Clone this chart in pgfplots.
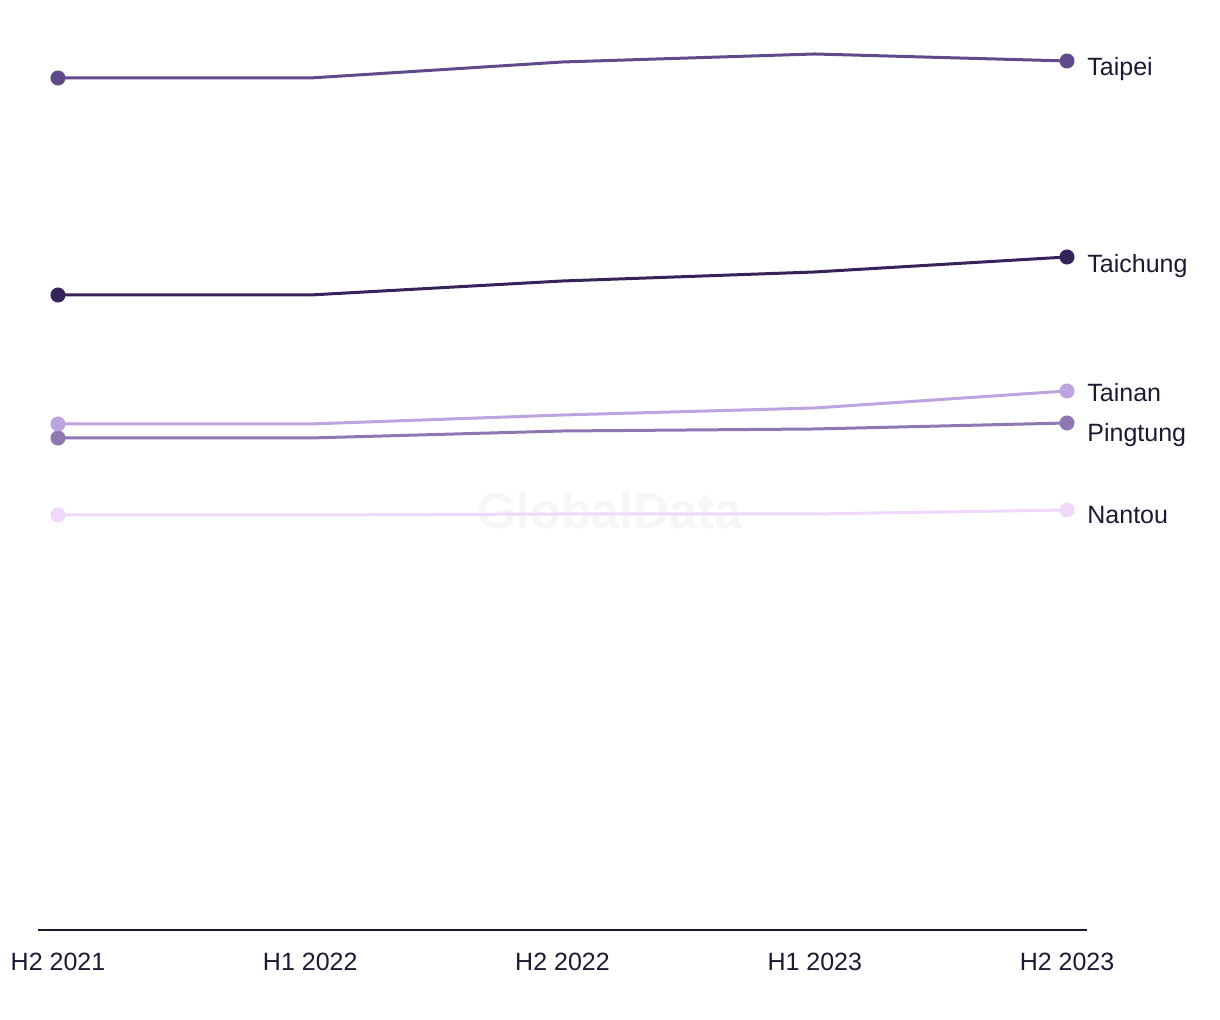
\documentclass[border=0pt]{standalone}
\usepackage{pgfplots}
\pgfplotsset{compat=1.18}
\usepackage{fontspec}
\setmainfont{Liberation Sans}
\definecolor{txt}{HTML}{1A1A33}
\definecolor{cTaipei}{HTML}{5F4B8B}
\definecolor{cTaichung}{HTML}{35235A}
\definecolor{cTainan}{HTML}{BDA3E0}
\definecolor{cPingtung}{HTML}{8E77B3}
\definecolor{cNantou}{HTML}{EFD8FB}
\definecolor{wm}{HTML}{F6F6F6}
\begin{document}
\begin{tikzpicture}
\path (-19pt,-45pt) rectangle (591pt,465pt);
\begin{axis}[
  scale only axis,
  width=524.5pt, height=465pt,
  xmin=-0.0793, xmax=4.0793,
  ymin=0, ymax=930,
  axis x line=bottom, axis y line=none,
  axis line style={-, draw=txt, line width=1pt},
  xtick={0,1,2,3,4},
  xticklabels={H2 2021,H1 2022,H2 2022,H1 2023,H2 2023},
  major tick length=0pt,
  xticklabel style={anchor=base, yshift=-20.5pt, font=\fontsize{12.5}{15}\selectfont, text=txt},
  clip=false,
  every axis plot/.append style={line width=1.5pt, mark=*, mark size=3pt, mark repeat=4},
]
\node[font=\fontsize{25}{30}\selectfont\bfseries, text=wm] at (axis cs:2.188,419) {GlobalData};
\addplot[cNantou, mark options={fill=cNantou, draw=cNantou}] coordinates {(0,415) (1,415) (2,416) (3,416) (4,420)};
\addplot[cPingtung, mark options={fill=cPingtung, draw=cPingtung}] coordinates {(0,492) (1,492) (2,499) (3,501) (4,507)};
\addplot[cTainan, mark options={fill=cTainan, draw=cTainan}] coordinates {(0,506) (1,506) (2,515) (3,522) (4,539)};
\addplot[cTaichung, mark options={fill=cTaichung, draw=cTaichung}] coordinates {(0,635) (1,635) (2,649) (3,658) (4,673)};
\addplot[cTaipei, mark options={fill=cTaipei, draw=cTaipei}] coordinates {(0,852) (1,852) (2,868) (3,876) (4,869)};
\begin{scope}[every node/.style={anchor=base west, inner sep=0pt, xshift=10pt, font=\fontsize{12.5}{15}\selectfont, text=txt}]
\node at (axis cs:4,854) {Taipei};
\node at (axis cs:4,657) {Taichung};
\node at (axis cs:4,528) {Tainan};
\node at (axis cs:4,488) {Pingtung};
\node at (axis cs:4,406) {Nantou};
\end{scope}
\end{axis}
\end{tikzpicture}
\end{document}
